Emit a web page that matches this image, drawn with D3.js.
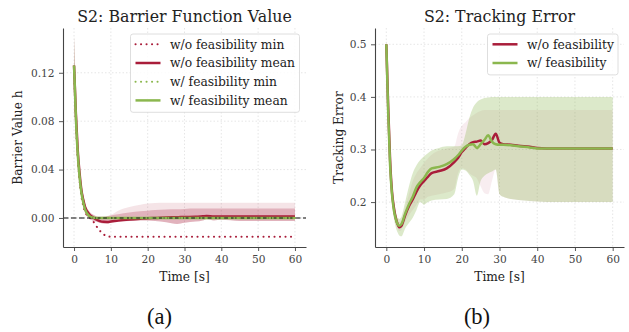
<!DOCTYPE html>
<html>
<head>
<meta charset="utf-8">
<script src="https://cdn.jsdelivr.net/npm/d3@7"></script>
<style>
  body { margin: 0; background: #fff; }
  svg { display: block; }
</style>
</head>
<body>
<script>
// ---- (a) Barrier function value ----
const timeA = [0, 0.5, 1, 1.5, 2, 2.5, 3, 4, 5, 6, 7, 8, 9, 10, 12, 15, 18, 20, 22, 25, 28, 30, 33, 35, 36, 38, 40, 45, 50, 55, 60];
const woMeanA = [0.126, 0.086, 0.056, 0.037, 0.023, 0.015, 0.009, 0.0035, 0.0008, -0.0012, -0.0026, -0.0032, -0.0033, -0.003, -0.0022, -0.0013, -0.0006, -0.0002, 0.0, 0.0004, 0.0006, 0.0008, 0.001, 0.0014, 0.0016, 0.0012, 0.0013, 0.0012, 0.0012, 0.0012, 0.0012];
const woMinA = [0.125, 0.08, 0.05, 0.031, 0.018, 0.01, 0.005, 0.001, -0.002, -0.0065, -0.0105, -0.0135, -0.015, -0.0155, -0.0156, -0.0156, -0.0156, -0.0156, -0.0156, -0.0156, -0.0156, -0.0156, -0.0156, -0.0156, -0.0156, -0.0156, -0.0156, -0.0156, -0.0156, -0.0156, -0.0156];
const wMeanA = [0.126, 0.083, 0.053, 0.034, 0.021, 0.013, 0.007, 0.002, 0.0003, 0.0, 0.0, 0.0, 0.0, 0.0, 0.0, 0.0, 0.0, 0.0, 0.0, 0.0, 0.0, 0.0, 0.0, 0.0, 0.0, 0.0, 0.0, 0.0, 0.0, 0.0, 0.0];
const wMinA = [0.125, 0.082, 0.052, 0.033, 0.02, 0.012, 0.0065, 0.0018, 0.0002, 0.0, 0.0, 0.0, 0.0, 0.0, 0.0, 0.0, 0.0, 0.0, 0.0, 0.0, 0.0, 0.0, 0.0, 0.0, 0.0, 0.0, 0.0, 0.0, 0.0, 0.0, 0.0];
const woLoA = [0.115, 0.07, 0.045, 0.028, 0.016, 0.009, 0.004, 0.0, -0.002, -0.003, -0.004, -0.0045, -0.0045, -0.004, -0.003, -0.0025, -0.002, -0.002, -0.0025, -0.0035, -0.005, -0.004, -0.003, -0.002, -0.001, -0.002, -0.0015, -0.0025, -0.0025, -0.0025, -0.0025];
const woHiA = [0.15, 0.1, 0.065, 0.043, 0.028, 0.019, 0.012, 0.006, 0.003, 0.0015, 0.001, 0.001, 0.0015, 0.002, 0.003, 0.0045, 0.0055, 0.006, 0.0065, 0.007, 0.0072, 0.0075, 0.0078, 0.0078, 0.0078, 0.0078, 0.0078, 0.0078, 0.0078, 0.0078, 0.0078];
const woMaxA = [0.15, 0.1, 0.065, 0.043, 0.028, 0.019, 0.012, 0.006, 0.003, 0.0015, 0.001, 0.0012, 0.0016, 0.0025, 0.006, 0.009, 0.011, 0.012, 0.0123, 0.0125, 0.0125, 0.0125, 0.0125, 0.0125, 0.0125, 0.0125, 0.0125, 0.0125, 0.0125, 0.0125, 0.0125];
const wLoA = [0.118, 0.078, 0.049, 0.031, 0.018, 0.011, 0.0055, 0.0012, 0.0, -0.0003, -0.0003, -0.0003, -0.0003, -0.0003, -0.0003, -0.0003, -0.0003, -0.0003, -0.0003, -0.0003, -0.0003, -0.0003, -0.0003, -0.0003, -0.0003, -0.0003, -0.0003, -0.0003, -0.0003, -0.0003, -0.0003];
const wHiA = [0.15, 0.09, 0.058, 0.037, 0.024, 0.015, 0.009, 0.003, 0.0008, 0.0003, 0.0003, 0.0003, 0.0003, 0.0003, 0.0003, 0.0003, 0.0003, 0.0003, 0.0003, 0.0003, 0.0003, 0.0003, 0.0003, 0.0003, 0.0003, 0.0003, 0.0003, 0.0003, 0.0003, 0.0003, 0.0003];
const yTicksA = [0.00, 0.04, 0.08, 0.12];

// ---- (b) Tracking error ----
const timeB = [0, 0.5, 1, 1.5, 2, 2.5, 3, 3.5, 4, 5, 6, 7, 8, 9, 10, 11, 12, 14, 16, 18, 19, 20, 21, 22, 23, 24, 25, 26, 27, 28, 29, 30, 31, 33, 35, 38, 40, 45, 50, 60];
const woMeanB = [0.5, 0.38, 0.28, 0.22, 0.19, 0.17, 0.158, 0.152, 0.155, 0.175, 0.192, 0.205, 0.22, 0.232, 0.24, 0.248, 0.255, 0.259, 0.264, 0.276, 0.284, 0.295, 0.303, 0.31, 0.314, 0.315, 0.317, 0.31, 0.312, 0.318, 0.33, 0.313, 0.31, 0.309, 0.307, 0.305, 0.303, 0.302, 0.302, 0.302];
const wMeanB = [0.5, 0.37, 0.27, 0.215, 0.185, 0.168, 0.158, 0.155, 0.158, 0.178, 0.196, 0.21, 0.228, 0.238, 0.246, 0.257, 0.264, 0.267, 0.272, 0.282, 0.289, 0.298, 0.305, 0.309, 0.31, 0.303, 0.31, 0.318, 0.327, 0.315, 0.31, 0.309, 0.309, 0.308, 0.306, 0.304, 0.302, 0.302, 0.302, 0.302];
const woLoB = [0.49, 0.37, 0.27, 0.21, 0.178, 0.16, 0.15, 0.145, 0.147, 0.163, 0.175, 0.185, 0.195, 0.205, 0.205, 0.21, 0.212, 0.215, 0.218, 0.225, 0.255, 0.265, 0.262, 0.255, 0.25, 0.245, 0.23, 0.217, 0.215, 0.24, 0.262, 0.215, 0.21, 0.206, 0.204, 0.202, 0.201, 0.2, 0.2, 0.2];
const woHiB = [0.51, 0.385, 0.285, 0.228, 0.197, 0.177, 0.166, 0.162, 0.165, 0.19, 0.215, 0.24, 0.255, 0.265, 0.275, 0.283, 0.29, 0.298, 0.302, 0.305, 0.33, 0.345, 0.352, 0.36, 0.365, 0.37, 0.373, 0.375, 0.375, 0.375, 0.375, 0.375, 0.375, 0.375, 0.375, 0.375, 0.375, 0.375, 0.375, 0.375];
const wLoB = [0.49, 0.36, 0.26, 0.2, 0.17, 0.152, 0.142, 0.136, 0.135, 0.15, 0.16, 0.17, 0.185, 0.2, 0.195, 0.2, 0.203, 0.205, 0.206, 0.215, 0.245, 0.262, 0.26, 0.252, 0.24, 0.212, 0.24, 0.25, 0.255, 0.258, 0.262, 0.215, 0.21, 0.206, 0.204, 0.202, 0.201, 0.2, 0.2, 0.2];
const wHiB = [0.512, 0.39, 0.29, 0.235, 0.2, 0.18, 0.17, 0.168, 0.172, 0.2, 0.23, 0.255, 0.27, 0.28, 0.287, 0.293, 0.298, 0.303, 0.306, 0.306, 0.306, 0.308, 0.33, 0.36, 0.38, 0.39, 0.395, 0.398, 0.399, 0.4, 0.4, 0.4, 0.4, 0.4, 0.4, 0.4, 0.4, 0.4, 0.4, 0.4];
const yTicksB = [0.2, 0.3, 0.4, 0.5];

const xTicks = [0, 10, 20, 30, 40, 50, 60];

const RED = '#a91d3a';
const GREEN = '#8bb74e';
const SERIF = "'DejaVu Serif', serif";
const DOT = '0.1,5.4';

const W = 629, H = 332;
const svg = d3.select('body')
                .append('svg')
                  .attr('width', W)
                  .attr('height', H);

const TOP = 28, BOTTOM = 247;

function drawGrid(g, x, y, yTicks) {
  g.append('g').selectAll('line')
      .data(xTicks)
      .enter()
      .append('line')
        .attr('x1', d => x(d)).attr('x2', d => x(d))
        .attr('y1', TOP).attr('y2', BOTTOM)
        .attr('stroke', '#e0e0e0').attr('stroke-width', 0.8)
        .attr('stroke-dasharray', '1.5,2');
  g.append('g').selectAll('line')
      .data(yTicks)
      .enter()
      .append('line')
        .attr('x1', x.range()[0]).attr('x2', x.range()[1])
        .attr('y1', d => y(d)).attr('y2', d => y(d))
        .attr('stroke', '#e0e0e0').attr('stroke-width', 0.8)
        .attr('stroke-dasharray', '1.5,2');
}

function drawSpines(g, x, y, yTicks, yFmt) {
  const xa = g.append('g')
      .attr('transform', 'translate(0,' + BOTTOM + ')')
      .call(d3.axisBottom(x).tickValues(xTicks).tickSize(4).tickPadding(4.5).tickSizeOuter(0));
  const ya = g.append('g')
      .attr('transform', 'translate(' + x.range()[0] + ',0)')
      .call(d3.axisLeft(y).tickValues(yTicks).tickFormat(yFmt).tickSize(4).tickPadding(4.5).tickSizeOuter(0));
  [xa, ya].forEach(a => {
    a.select('.domain').attr('stroke', '#444').attr('stroke-width', 1.1);
    a.selectAll('.tick line').attr('stroke', '#444').attr('stroke-width', 0.9);
    a.selectAll('.tick text')
      .attr('fill', '#444')
      .style('font-family', SERIF)
      .style('font-size', '10.6px');
  });
}

function band(g, x, y, t, lo, hi, color, opacity) {
  const area = d3.area()
    .x((d, i) => x(t[i]))
    .y0((d, i) => y(lo[i]))
    .y1((d, i) => y(hi[i]))
    .curve(d3.curveMonotoneX);
  g.append('path')
    .datum(t)
    .attr('d', area)
    .attr('fill', color)
    .attr('fill-opacity', opacity);
}

function line(g, x, y, t, v, color, width, dash) {
  const gen = d3.line()
    .x((d, i) => x(t[i]))
    .y(d => y(d))
    .curve(d3.curveMonotoneX);
  const p = g.append('path')
    .datum(v)
    .attr('d', gen)
    .attr('fill', 'none')
    .attr('stroke', color)
    .attr('stroke-width', width)
    .attr('stroke-linejoin', 'round');
  if (dash) p.attr('stroke-dasharray', dash).attr('stroke-linecap', 'round');
  return p;
}

function label(g, x, y, txt, size, extra) {
  const t = g.append('text')
    .attr('x', x).attr('y', y)
    .attr('text-anchor', 'middle')
    .attr('fill', '#222')
    .style('font-family', SERIF)
    .style('font-size', size + 'px')
    .text(txt);
  if (extra) extra(t);
  return t;
}

function legend(g, x0, y0, w, entries) {
  const ROW = 18.7;
  g.append('rect')
    .attr('x', x0).attr('y', y0)
    .attr('width', w).attr('height', entries.length * ROW + 3.5)
    .attr('rx', 2.5)
    .attr('fill', '#fff').attr('fill-opacity', 0.85)
    .attr('stroke', '#d6d6d6').attr('stroke-width', 0.8);
  entries.forEach((e, i) => {
    const cy = y0 + 10.3 + i * ROW;
    const l = g.append('line')
      .attr('x1', x0 + 5).attr('x2', x0 + 30)
      .attr('y1', cy).attr('y2', cy)
      .attr('stroke', e.color)
      .attr('stroke-width', e.dash ? 2 : 2.5);
    if (e.dash) l.attr('stroke-dasharray', e.dash).attr('stroke-linecap', 'round');
    g.append('text')
      .attr('x', x0 + 39.5).attr('y', cy + 4.3)
      .attr('fill', '#222')
      .style('font-family', SERIF)
      .style('font-size', '12.3px')
      .text(e.label);
  });
}

// ---------- panel (a) ----------
const gA = svg.append('g');
const xA = d3.scaleLinear().domain([-3, 63]).range([63, 306]);
const yA = d3.scaleLinear().domain([-0.024, 0.157]).range([BOTTOM, TOP]);
drawGrid(gA, xA, yA, yTicksA);
band(gA, xA, yA, timeA, woLoA, woMaxA, RED, 0.12);
band(gA, xA, yA, timeA, woLoA, woHiA, RED, 0.25);
band(gA, xA, yA, timeA, wLoA, wHiA, GREEN, 0.3);
line(gA, xA, yA, timeA, woMinA, RED, 2, DOT);
line(gA, xA, yA, timeA, woMeanA, RED, 2.5);
line(gA, xA, yA, timeA, wMeanA, GREEN, 2.5);
gA.append('line')
  .attr('x1', xA.range()[0]).attr('x2', xA.range()[1])
  .attr('y1', yA(0)).attr('y2', yA(0))
  .attr('stroke', '#222').attr('stroke-opacity', 0.75)
  .attr('stroke-width', 1.4)
  .attr('stroke-dasharray', '5.5,2.5');
line(gA, xA, yA, timeA, wMinA, GREEN, 2, DOT);
drawSpines(gA, xA, yA, yTicksA, d3.format('.2f'));
legend(gA, 130.5, 34, 169, [
  {label: 'w/o feasibility min', color: RED, dash: DOT},
  {label: 'w/o feasibility mean', color: RED},
  {label: 'w/ feasibility min', color: GREEN, dash: DOT},
  {label: 'w/ feasibility mean', color: GREEN}
]);

label(gA, 184.5, 22, 'S2: Barrier Function Value', 15.8);
label(gA, 0, 0, 'Barrier Value h', 12.2,
      t => t.attr('transform', 'translate(22,' + ((TOP + BOTTOM) / 2) + ') rotate(-90)'));
label(gA, 184.5, 281, 'Time [s]', 12.2);
label(gA, 159.5, 324, '(a)', 22.5, t => t.style('font-family', "'Liberation Serif', serif").attr('fill', '#111'));

// ---------- panel (b) ----------
const gB = svg.append('g');
const xB = d3.scaleLinear().domain([-3, 63]).range([375, 624]);
const yB = d3.scaleLinear().domain([0.1146, 0.531]).range([BOTTOM, TOP]);
drawGrid(gB, xB, yB, yTicksB);
band(gB, xB, yB, timeB, woLoB, woHiB, RED, 0.08);
band(gB, xB, yB, timeB, wLoB, wHiB, GREEN, 0.3);
line(gB, xB, yB, timeB, woMeanB, RED, 2.5);
line(gB, xB, yB, timeB, wMeanB, GREEN, 2.5);
drawSpines(gB, xB, yB, yTicksB, d3.format('.1f'));
legend(gB, 487.5, 34, 130.5, [
  {label: 'w/o feasibility', color: RED},
  {label: 'w/ feasibility', color: GREEN}
]);

label(gB, 499.5, 22, 'S2: Tracking Error', 15.8);
label(gB, 0, 0, 'Tracking Error', 12.2,
      t => t.attr('transform', 'translate(343,' + ((TOP + BOTTOM) / 2) + ') rotate(-90)'));
label(gB, 499.5, 281, 'Time [s]', 12.2);
label(gB, 477, 324, '(b)', 22.5, t => t.style('font-family', "'Liberation Serif', serif").attr('fill', '#111'));
</script>
</body>
</html>
